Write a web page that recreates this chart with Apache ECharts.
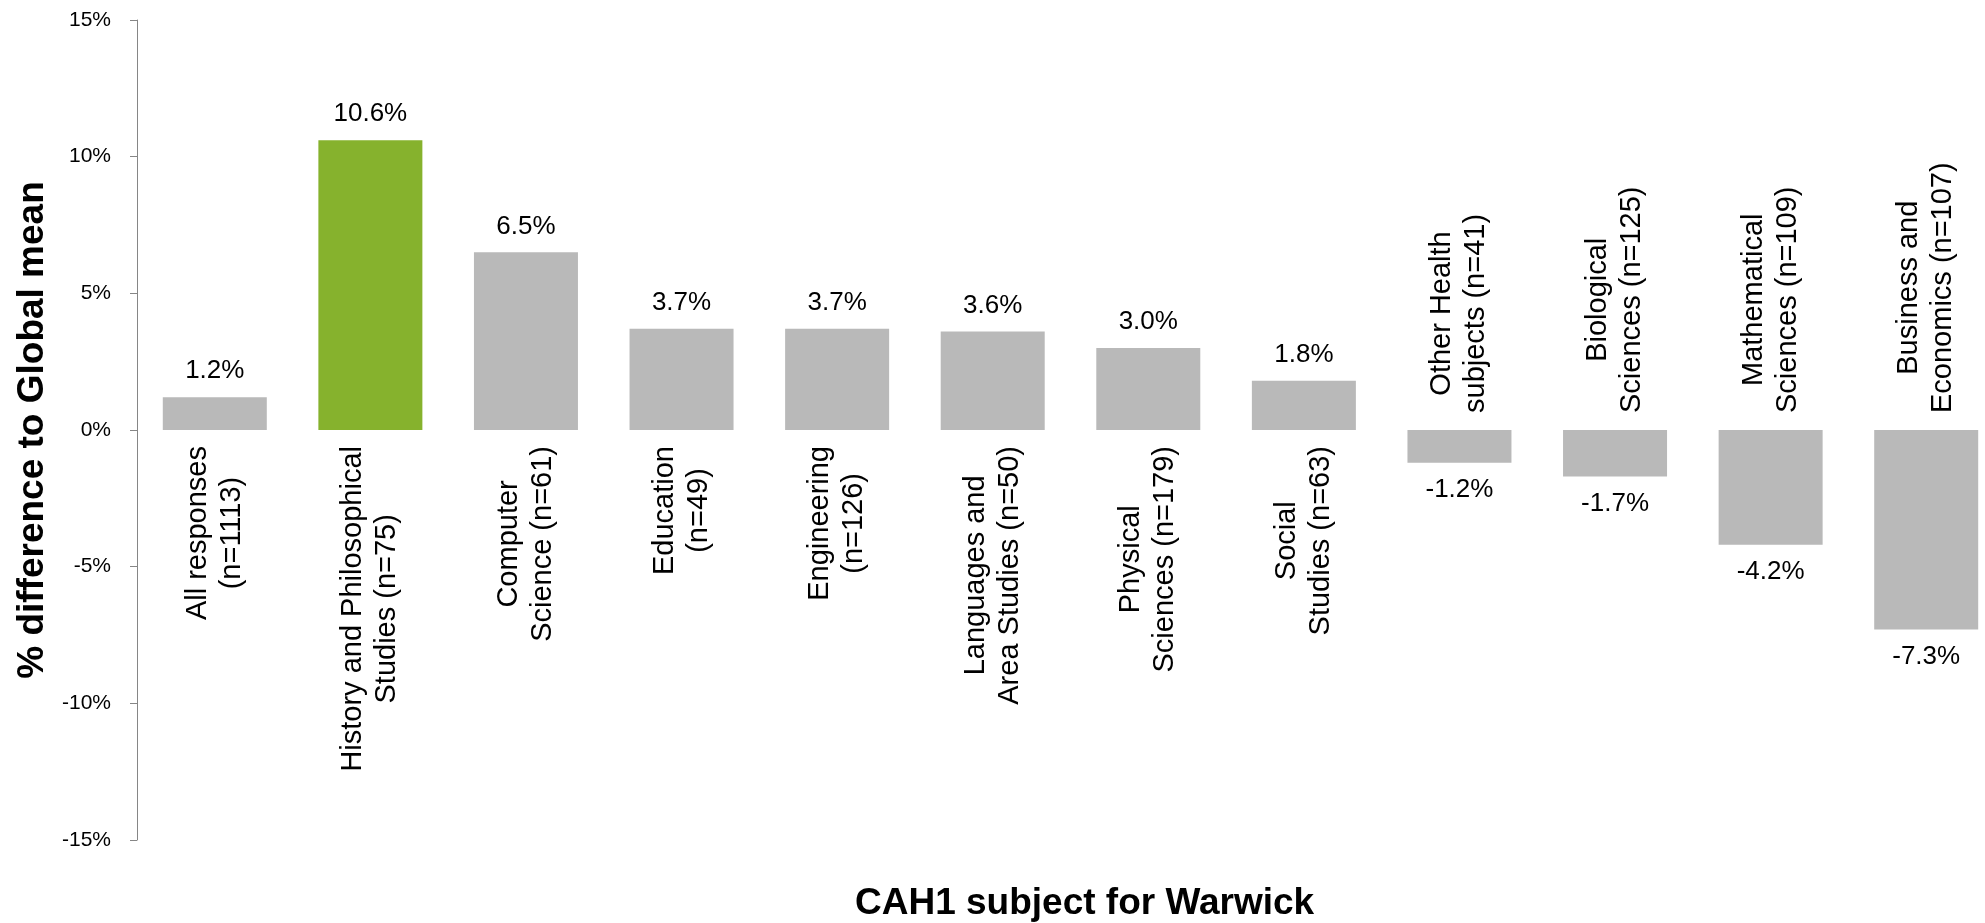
<!DOCTYPE html>
<html>
<head>
<meta charset="utf-8">
<script src="https://cdn.jsdelivr.net/npm/echarts@6/dist/echarts.min.js"></script>
<style>
  html, body { margin: 0; padding: 0; background: #fff; }
  #chart { width: 1985px; height: 923px; }
</style>
</head>
<body>
<div id="chart"></div>
<script>
const categories = [
  "All responses\n(n=1113)",
  "History and Philosophical\nStudies (n=75)",
  "Computer\nScience (n=61)",
  "Education\n(n=49)",
  "Engineering\n(n=126)",
  "Languages and\nArea Studies (n=50)",
  "Physical\nSciences (n=179)",
  "Social\nStudies (n=63)",
  "Other Health\nsubjects (n=41)",
  "Biological\nSciences (n=125)",
  "Mathematical\nSciences (n=109)",
  "Business and\nEconomics (n=107)"
];
const values = [1.2, 10.6, 6.5, 3.7, 3.7, 3.6, 3.0, 1.8, -1.2, -1.7, -4.2, -7.3];
const yTicks = { min: -15, max: 15, step: 5 };
const highlightIndex = 1;

const FONT = "Liberation Sans, Arial, sans-serif";
const GREY = "#b9b9b9";
const GREEN = "#86b22d";
const GRID = { left: 137, top: 20, width: 1867, height: 820 };

const chart = echarts.init(document.getElementById("chart"));

// category labels hang from the zero line, so lift the x axis up to it
const zeroOffset = -GRID.height * (0 - yTicks.min) / (yTicks.max - yTicks.min);

// negative bars get their category label above the zero line
const xData = categories.map((name, i) => {
  if (values[i] < 0) {
    return { value: name, textStyle: { align: "left", padding: [0, 0, 0, 33] } };
  }
  return name;
});

const barData = values.map((v, i) => ({
  value: v,
  itemStyle: { color: i === highlightIndex ? GREEN : GREY },
  label: v < 0 ? { position: "bottom", distance: 14 } : { position: "top", distance: 13 }
}));

const option = {
  animation: false,
  backgroundColor: "#fff",
  title: {
    text: "CAH1 subject for Warwick",
    left: 855,
    top: 885,
    padding: 0,
    textStyle: { fontFamily: FONT, fontSize: 37, fontWeight: "bold", color: "#000" }
  },
  grid: Object.assign({ containLabel: false, outerBoundsMode: "none" }, GRID),
  xAxis: {
    type: "category",
    data: xData,
    offset: zeroOffset,
    axisLine: { show: false, onZero: false },
    axisTick: { show: false },
    axisLabel: {
      interval: 0,
      rotate: 90,
      margin: 16,
      hideOverlap: false,
      color: "#000",
      fontFamily: FONT,
      fontSize: 29,
      lineHeight: 34,
      formatter: (v) => v.split("\n").map((l) => "{c|" + l + "}").join("\n"),
      rich: {
        c: { align: "center", fontFamily: FONT, fontSize: 29, lineHeight: 34, color: "#000" }
      }
    }
  },
  yAxis: {
    type: "value",
    min: yTicks.min,
    max: yTicks.max,
    interval: yTicks.step,
    name: "% difference to Global mean",
    nameLocation: "middle",
    nameGap: 86,
    nameTextStyle: { fontFamily: FONT, fontSize: 37, fontWeight: "bold", color: "#000" },
    axisLine: { show: true, lineStyle: { color: "#868686", width: 1 } },
    axisTick: { show: true, inside: false, length: 7, lineStyle: { color: "#868686" } },
    splitLine: { show: false },
    axisLabel: {
      margin: 26,
      color: "#000",
      fontFamily: FONT,
      fontSize: 21,
      formatter: "{value}%"
    }
  },
  series: [
    {
      type: "bar",
      data: barData,
      barWidth: 104,
      label: {
        show: true,
        color: "#000",
        fontFamily: FONT,
        fontSize: 26,
        formatter: (p) => p.value.toFixed(1) + "%"
      }
    }
  ]
};

chart.setOption(option);
</script>
</body>
</html>
